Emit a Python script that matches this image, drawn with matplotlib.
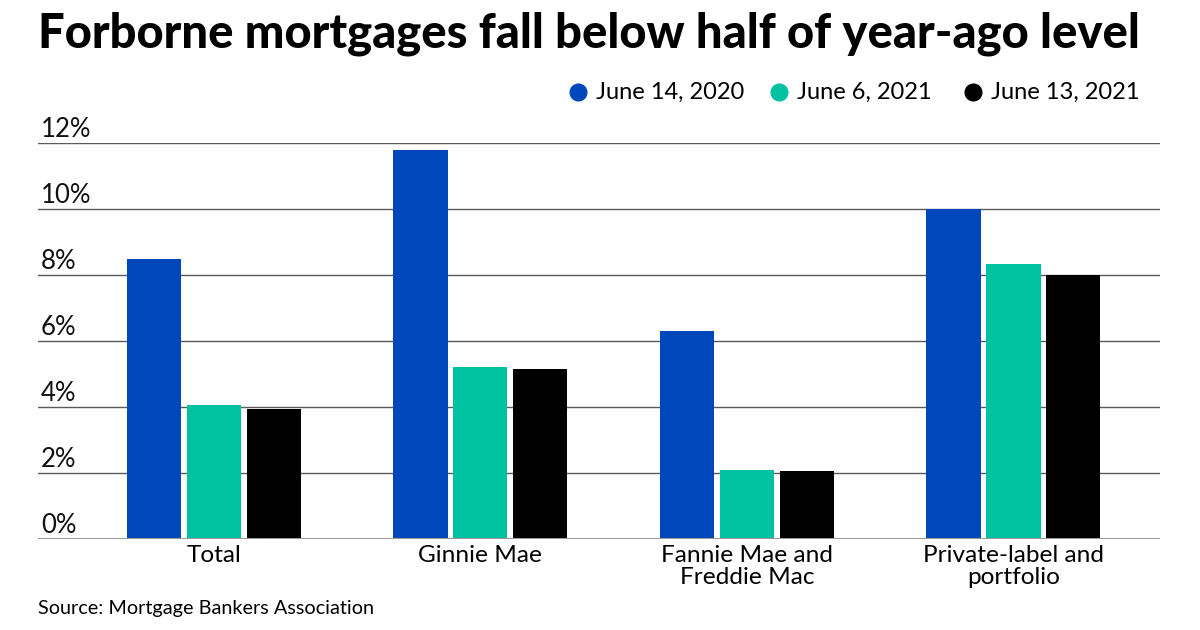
import matplotlib.pyplot as plt
import numpy as np
from matplotlib.lines import Line2D

categories = ["Total", "Ginnie Mae", "Fannie Mae and\nFreddie Mac", "Private-label and\nportfolio"]
series_names = ["June 14, 2020", "June 6, 2021", "June 13, 2021"]
june_14_2020 = [8.5, 11.8, 6.3, 10.0]
june_6_2021 = [4.05, 5.2, 2.1, 8.33]
june_13_2021 = [3.95, 5.15, 2.05, 8.0]
y_ticks = [0, 2, 4, 6, 8, 10, 12]
colors = ["#0047BB", "#00C1A0", "#000000"]

plt.rcParams["font.family"] = ["Lato", "DejaVu Sans"]

fig = plt.figure(figsize=(12, 6.3), dpi=100)
ax = fig.add_axes([0.0317, 0.1444, 0.935, 0.6286])

x = np.arange(len(categories))
width = 0.203
offset = 0.225
for i, (vals, color) in enumerate(zip([june_14_2020, june_6_2021, june_13_2021], colors)):
    ax.bar(x + (i - 1) * offset, vals, width, color=color, zorder=3)

ax.set_ylim(0, 12)
ax.set_xlim(-0.66, 3.55)

# gridlines with labels sitting on top, left aligned
for t in y_ticks:
    if t == 0:
        ax.axhline(t, color="#9a9a9a", lw=2.2, zorder=4)
    else:
        ax.axhline(t, color="#5a5a5a", lw=1, zorder=1)
    ax.annotate(f"{t}%", xy=(0, t), xycoords=("axes fraction", "data"),
                xytext=(2, 4), textcoords="offset points",
                ha="left", va="baseline", fontsize=18.5, color="#111111")

ax.set_yticks([])
ax.set_xticks(x)
ax.set_xticklabels(categories, fontsize=17.6, linespacing=1.1)
ax.tick_params(axis="x", length=0, pad=4)
for s in ax.spines.values():
    s.set_visible(False)

fig.text(0.0317, 0.925, "Forborne mortgages fall below half of year-ago level",
         fontsize=33.9, fontweight="black", ha="left", va="baseline")

# legend row
legend_x = [0.4817, 0.6495, 0.8105]
for lx, name, color in zip(legend_x, series_names, colors):
    fig.add_artist(Line2D([lx], [0.854], marker="o", markersize=12,
                          color=color, linestyle="none", transform=fig.transFigure))
    fig.text(lx + 0.015, 0.854, name, fontsize=17, ha="left", va="center")

fig.text(0.0317, 0.026, "Source: Mortgage Bankers Association", fontsize=14.3,
         ha="left", va="baseline")

fig.savefig("out.png", dpi=100)
